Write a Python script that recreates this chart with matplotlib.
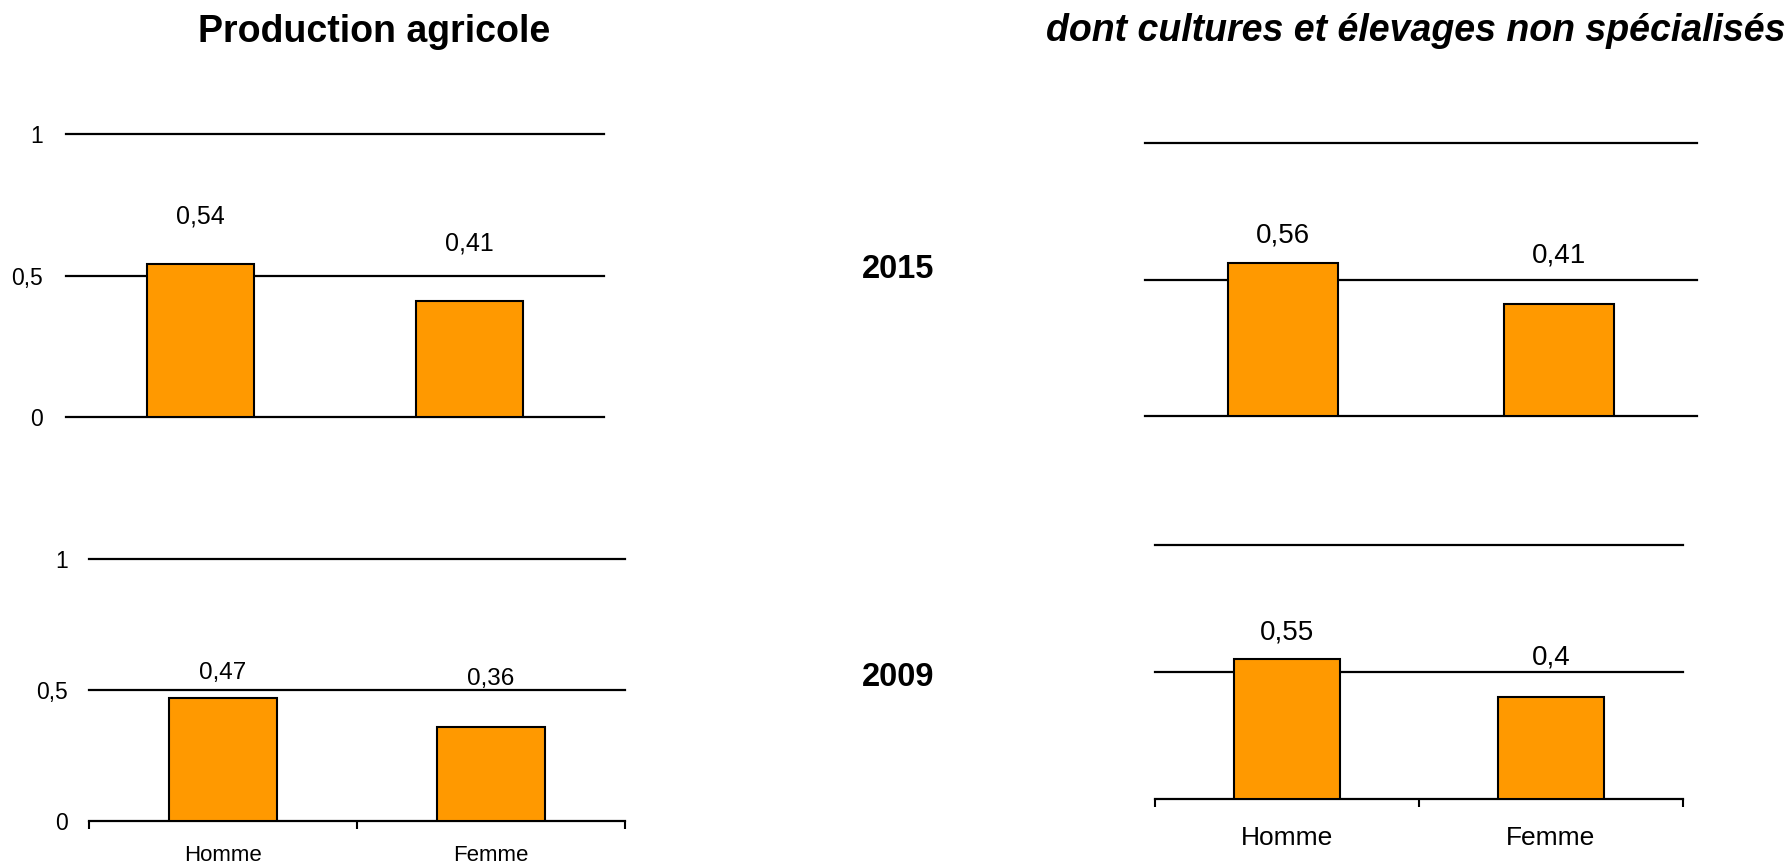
import numpy as np
import matplotlib
matplotlib.use("Agg")
import matplotlib.pyplot as plt

plt.rcParams["font.family"] = ["Liberation Sans", "DejaVu Sans"]

# data
categories = ["Homme", "Femme"]
prod_2015 = [0.54, 0.41]
prod_2009 = [0.47, 0.36]
cult_2015 = [0.56, 0.41]
cult_2009 = [0.55, 0.40]
yticks = [0, 0.5, 1]
ytick_labels = ["0", "0,5", "1"]
years = ["2015", "2009"]
titles = ["Production agricole", "dont cultures et élevages non spécialisés"]

W, H = 1791, 866
DPI = 100
fig = plt.figure(figsize=(W / DPI, H / DPI), dpi=DPI)

BAR = "#FF9900"


def add_ax(x0, x1, ytop, ybot):
    # pixel box -> figure fraction
    return fig.add_axes([x0 / W, 1 - ybot / H, (x1 - x0) / W, (ybot - ytop) / H])


def panel(ax, vals, offs, vfs, show_y, ytfs, ypad, show_x, xfs, xpad):
    x = np.arange(len(vals))
    for g in yticks:
        ax.axhline(g, color="black", lw=1.6, zorder=0, clip_on=False)
    ax.bar(x, vals, width=0.4, color=BAR, edgecolor="black", linewidth=1.5, zorder=2)
    for xi, v, o in zip(x, vals, offs):
        ax.annotate(f"{v:g}".replace(".", ","), (xi, v), xytext=(0, o),
                    textcoords="offset pixels", ha="center", va="center",
                    fontsize=vfs)
    ax.set_xlim(-0.5, len(vals) - 0.5)
    ax.set_ylim(0, 1)
    for s in ax.spines.values():
        s.set_visible(False)
    if show_y:
        ax.set_yticks(yticks)
        ax.set_yticklabels(ytick_labels, fontsize=ytfs)
        ax.tick_params(axis="y", length=0, pad=ypad)
    else:
        ax.set_yticks([])
    if show_x:
        ax.set_xticks(x)
        ax.set_xticklabels(categories, fontsize=xfs)
        ax.set_xticks(np.arange(len(vals) + 1) - 0.5, minor=True)
        ax.tick_params(axis="x", which="major", length=0, pad=xpad)
        ax.tick_params(axis="x", which="minor", length=6, width=1.5, direction="out")
    else:
        ax.set_xticks([])


ax_tl = add_ax(66, 604, 134, 417)
panel(ax_tl, prod_2015, [48, 57], 18, True, 16.5, 16.5, False, 16, 16)

ax_bl = add_ax(89, 625, 559, 821)
panel(ax_bl, prod_2009, [25, 48], 17.5, True, 16.5, 15, True, 16, 17)

ax_tr = add_ax(1145, 1697, 143, 416)
panel(ax_tr, cult_2015, [28, 49], 20, False, 16, 16, False, 19, 17)

ax_br = add_ax(1155, 1683, 545, 799)
panel(ax_br, cult_2009, [27, 40], 20, False, 16, 16, True, 19, 19.5)

fig.text(374 / W, 1 - 42 / H, titles[0], ha="center", va="baseline",
         fontsize=27, fontweight="bold")
fig.text(1416 / W, 1 - 41 / H, titles[1], ha="center", va="baseline",
         fontsize=27, fontweight="bold", fontstyle="italic")
fig.text(862 / W, 1 - 269 / H, years[0], ha="left", va="center",
         fontsize=23.5, fontweight="bold")
fig.text(862 / W, 1 - 678 / H, years[1], ha="left", va="center",
         fontsize=23.5, fontweight="bold")

fig.savefig("out.png", dpi=DPI)
